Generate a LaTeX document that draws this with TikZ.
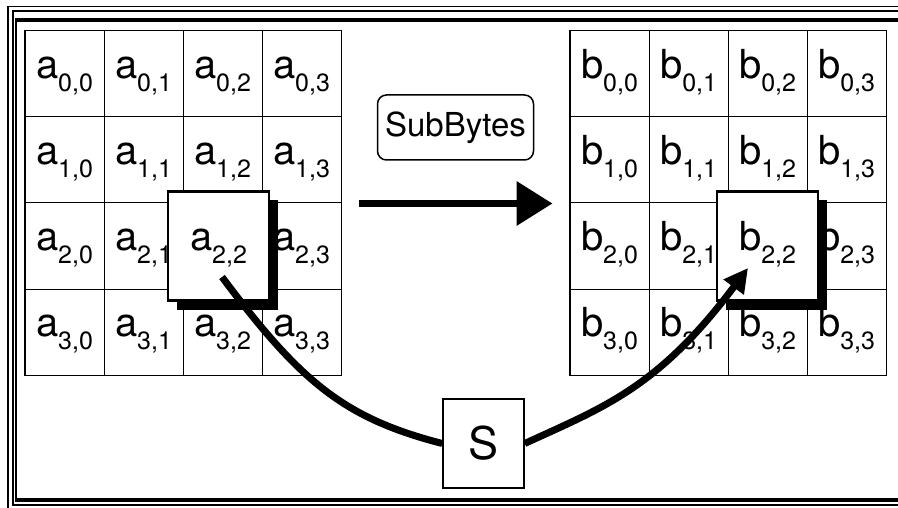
\documentclass[tikz,border=0pt]{standalone}
\usepackage{fontspec}
\setmainfont{TeX Gyre Heros}
\usetikzlibrary{positioning,arrows.meta,shadows}

% state entry: letter with a lowered row,column index
\newcommand{\ent}[3]{#1\raisebox{-13pt}{\fontsize{25}{25}\selectfont #2,#3}}

\begin{document}
\begin{tikzpicture}[x=1pt,y=-1pt,
    cell/.style={draw,line width=1pt,minimum width=79pt,minimum height=86pt,inner sep=0pt,
      text height=22pt,text depth=13pt,font=\fontsize{40}{40}\selectfont},
    zoombox/.style={cell,fill=white,line width=2.5pt,minimum width=101pt,minimum height=109pt,
      drop shadow={fill=black,opacity=1,shadow xshift=9pt,shadow yshift=-9pt}},
    flow/.style={line width=7pt}]
    \useasboundingbox (0,0) rectangle (898,508);
    \clip (0,0) rectangle (898,508);

    % frame
    \draw[line width=1.5pt] (8,515) -- (8,6.5) -- (905,6.5);
    \draw[line width=1.5pt] (905,505) -- (13,505) -- (13,11) -- (905,11);
    \draw[line width=1.2pt] (16,500) -- (16,20);
    \draw[line width=3.8pt] (15,20) -- (905,20);
    \draw[line width=3.8pt] (15,500) -- (905,500);

    % input and output state (entry 2,2 sits in the raised box)
    \foreach \r in {0,...,3}
      \foreach \c in {0,...,3} {
        \node[cell] (a-\r-\c) at ({64.5+79*\c},{74+86*\r}) {\ifnum\r\c=22 \else\ent{a}{\r}{\c}\fi};
        \node[cell] (b-\r-\c) at ({609.5+79*\c},{74+86*\r}) {\ifnum\r\c=22 \else\ent{b}{\r}{\c}\fi};
      }
    \draw[line width=1.8pt] (a-0-0.north west) rectangle (a-3-3.south east);
    \draw[line width=1.8pt] (b-0-0.north west) rectangle (b-3-3.south east);

    % highlighted byte
    \node[zoombox,xshift=-4pt] (a22) at (a-2-2) {\ent{a}{2}{2}};
    \node[zoombox] (b22) at (b-2-2) {\ent{b}{2}{2}};

    \node[draw,line width=1.5pt,rounded corners=9pt,minimum width=156pt,minimum height=65pt,
      font=\fontsize{33}{33}\selectfont] (subbytes) at (455.5,127.5) {SubBytes};
    \draw[flow,-{Triangle[length=36pt,width=43pt]}] ([xshift=17pt]a-1-3.south east) -- ([xshift=-17pt]b-1-0.south west);

    % s-box lookup
    \node[draw,fill=white,line width=1.5pt,minimum width=81pt,minimum height=89pt,inner sep=0pt,
      font=\fontsize{45}{45}\selectfont] (sbox) at (483.5,443.5) {S};
    \coordinate (a22out) at (222,277);
    \coordinate (b22in) at (748,268);
    \draw[flow] (a22out) .. controls (300,381) and (343,418) .. (sbox.west);
    \draw[flow,-{Triangle[length=24pt,width=24pt]}] (sbox.east) .. controls (604,407) and (658,388) .. (b22in);
\end{tikzpicture}
\end{document}
